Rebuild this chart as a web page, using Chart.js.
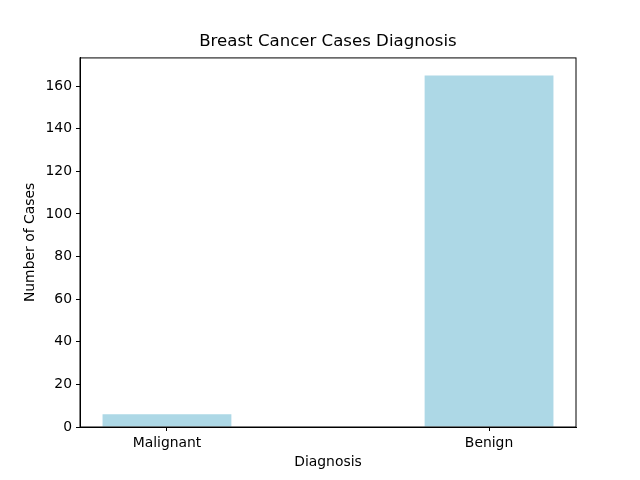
<!DOCTYPE html>
<html>
<head>
<meta charset="utf-8">
<script src="https://cdn.jsdelivr.net/npm/chart.js@4/dist/chart.umd.min.js"></script>
<style>
    html, body { margin: 0; padding: 0; background: #ffffff; }
    #wrap { width: 640px; height: 480px; }
</style>
</head>
<body>
<div id="wrap"><canvas id="diagnosisChart" width="640" height="480"></canvas></div>
<script>
const categories = ['Malignant', 'Benign'];
const caseCounts = [6, 165];
const yTicks = [0, 20, 40, 60, 80, 100, 120, 140, 160];

const points = categories.map((name, i) => ({ x: i, y: caseCounts[i] }));

// top and right spines, like the other two axis lines
const frame = {
    id: 'frame',
    afterDraw(chart) {
        const { ctx, chartArea } = chart;
        ctx.save();
        ctx.strokeStyle = '#000000';
        ctx.lineWidth = 1;
        ctx.strokeRect(chartArea.left, chartArea.top, chartArea.right - chartArea.left, chartArea.bottom - chartArea.top);
        ctx.restore();
    },
};

const tickFont = { family: 'DejaVu Sans', size: 13.9 };

new Chart(document.getElementById('diagnosisChart'), {
    type: 'bar',
    data: {
        datasets: [
            {
                data: points,
                backgroundColor: '#add8e6',
                borderWidth: 0,
                barPercentage: 0.4,
                categoryPercentage: 1,
            },
        ],
    },
    options: {
        responsive: false,
        animation: false,
        layout: {
            padding: { top: 0, right: 64, bottom: 0, left: 0 },
        },
        plugins: {
            legend: { display: false },
            tooltip: { enabled: false },
            title: {
                display: true,
                fullSize: false,
                text: 'Breast Cancer Cases Diagnosis',
                color: '#000000',
                font: { family: 'DejaVu Sans', size: 16.6, weight: 'normal' },
                padding: { top: 32, bottom: 6 },
            },
        },
        scales: {
            x: {
                type: 'linear',
                offset: false,
                min: -0.27,
                max: 1.27,
                afterBuildTicks: (scale) => {
                    scale.ticks = categories.map((c, i) => ({ value: i }));
                },
                afterFit: (scale) => {
                    scale.height = 53;
                },
                grid: {
                    display: true,
                    offset: false,
                    drawOnChartArea: false,
                    drawTicks: true,
                    tickLength: 4,
                    color: '#000000',
                },
                border: { display: true, color: '#000000' },
                ticks: {
                    color: '#000000',
                    font: tickFont,
                    padding: 4,
                    maxRotation: 0,
                    callback: (value) => categories[value] ?? '',
                },
                title: {
                    display: true,
                    text: 'Diagnosis',
                    color: '#000000',
                    font: tickFont,
                    padding: { top: 0, bottom: 9 },
                },
            },
            y: {
                min: 0,
                max: Math.max(...caseCounts) * 1.05,
                afterBuildTicks: (scale) => {
                    scale.ticks = yTicks.map((v) => ({ value: v }));
                },
                afterFit: (scale) => {
                    scale.width = 80;
                },
                grid: {
                    display: true,
                    drawOnChartArea: false,
                    drawTicks: true,
                    tickLength: 4,
                    color: '#000000',
                },
                border: { display: true, color: '#000000' },
                ticks: {
                    color: '#000000',
                    font: tickFont,
                    padding: 4,
                },
                title: {
                    display: true,
                    text: 'Number of Cases',
                    color: '#000000',
                    font: tickFont,
                    padding: { top: 22, bottom: 0 },
                },
            },
        },
    },
    plugins: [frame],
});
</script>
</body>
</html>
